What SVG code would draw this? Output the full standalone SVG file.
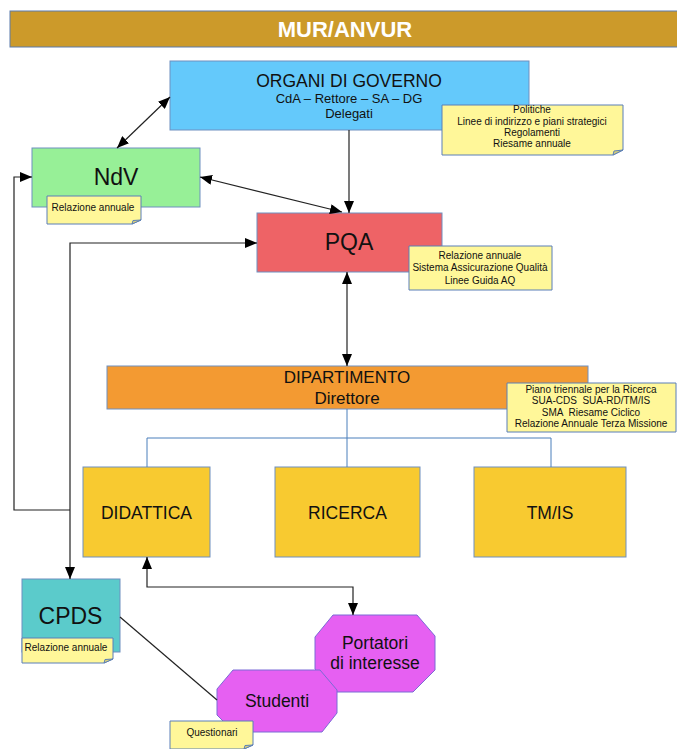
<svg xmlns="http://www.w3.org/2000/svg" width="677" height="749" viewBox="0 0 677 749">
<defs>
<marker id="ah" viewBox="0 0 12 10" refX="12" refY="5" markerWidth="12" markerHeight="10" markerUnits="userSpaceOnUse" orient="auto-start-reverse"><path d="M0,0 L12,5 L0,10 Z" fill="#000"/></marker>
<style>
text{font-family:"Liberation Sans",Arial,sans-serif;fill:#111;text-anchor:middle}
.box{stroke:#6f8fc0;stroke-width:1}
.note{fill:#fff799;stroke:#5b7fb8;stroke-width:1}
.fold{fill:#d9d07a;stroke:#5b7fb8;stroke-width:1}
.nt{font-size:10px;white-space:pre}
.big{font-size:23px}
.mid{font-size:17.5px}
.con{fill:none;stroke:#222;stroke-width:1.2}
.tree{fill:none;stroke:#4a7ebb;stroke-width:1}
.oct{fill:#e660f2;stroke:#7b6ad6;stroke-width:1}
</style>
</defs>
<rect width="677" height="749" fill="#fff"/>
<g id="mur">
<rect x="10" y="11" width="672" height="36" fill="#cc9a2a" stroke="#5a7bab" stroke-width="1"/>
<text x="345" y="36.5" style="font-size:22px;font-weight:bold;fill:#fff">MUR/ANVUR</text>
</g>
<g id="organi">
<rect class="box" x="170" y="61" width="359" height="69" fill="#64c9fb"/>
<text x="349" y="86.5" class="mid">ORGANI DI GOVERNO</text>
<text x="349" y="102.5" style="font-size:13px">CdA – Rettore – SA – DG</text>
<text x="349" y="117.5" style="font-size:13px">Delegati</text>
<path class="note" d="M442,105 H623 V150 L613,155 H442 Z"/>
<path class="fold" d="M623,150 L613,155 L614,151 Z"/>
<text x="532" y="112.5" class="nt">Politiche</text>
<text x="532" y="125" class="nt">Linee di indirizzo e piani strategici</text>
<text x="532" y="136" class="nt">Regolamenti</text>
<text x="532" y="147" class="nt">Riesame annuale</text>
</g>
<g id="ndv">
<rect class="box" x="32" y="148" width="168" height="59" fill="#97f097"/>
<text x="116" y="185" class="big">NdV</text>
<path class="note" d="M47,196 H141 V220 L132,224 H47 Z"/>
<path class="fold" d="M141,220 L132,224 L133,220.5 Z"/>
<text x="93" y="211" class="nt">Relazione annuale</text>
</g>
<g id="pqa">
<rect class="box" x="257" y="213" width="185" height="59" fill="#ee6366"/>
<text x="349" y="249.5" class="big">PQA</text>
<path class="note" d="M409,246 H552 V290 H409 Z"/>
<text x="480" y="259" class="nt">Relazione annuale</text>
<text x="480" y="271" class="nt">Sistema Assicurazione Qualità</text>
<text x="480" y="283.5" class="nt">Linee Guida AQ</text>
</g>
<g id="dipartimento">
<rect class="box" x="107" y="366" width="481" height="43" fill="#f39a32"/>
<text x="347" y="383" style="font-size:17px">DIPARTIMENTO</text>
<text x="347" y="403.5" style="font-size:17px">Direttore</text>
<path class="note" d="M507,383 H676 V432 H507 Z"/>
<text x="591" y="392.7" class="nt">Piano triennale per la Ricerca</text>
<text x="591" y="404.3" class="nt" xml:space="preserve">SUA-CDS  SUA-RD/TM/IS</text>
<text x="591" y="415.7" class="nt" xml:space="preserve">SMA  Riesame Ciclico</text>
<text x="591" y="426.7" class="nt">Relazione Annuale Terza Missione</text>
</g>
<g id="didattica">
<rect class="box" x="83" y="467" width="127" height="90" fill="#f8ca30"/>
<text x="146.5" y="519" class="mid">DIDATTICA</text>
</g>
<g id="ricerca">
<rect class="box" x="275" y="467" width="145" height="90" fill="#f8ca30"/>
<text x="347.5" y="519" class="mid">RICERCA</text>
</g>
<g id="tmis">
<rect class="box" x="474" y="467" width="152" height="90" fill="#f8ca30"/>
<text x="550" y="519" class="mid">TM/IS</text>
</g>
<g id="cpds">
<rect class="box" x="22" y="579" width="98" height="73" fill="#5bcbcb"/>
<text x="70.5" y="623.5" class="big">CPDS</text>
<path class="note" d="M22,638 H113 V659 L104,663 H22 Z"/>
<path class="fold" d="M113,659 L104,663 L105,659.5 Z"/>
<text x="66" y="651" class="nt">Relazione annuale</text>
</g>
<g id="portatori">
<path class="oct" d="M333,615 H417 L435,636 V670 L413,692 H333 L315,669 V637 Z"/>
<text x="375" y="648.5" class="mid">Portatori</text>
<text x="375" y="668.5" class="mid">di interesse</text>
</g>
<g id="studenti">
<path class="oct" d="M233,670 H320 L337,690 V713 L322,732 H234 L217,715 V689 Z"/>
<text x="277" y="706.5" class="mid">Studenti</text>
<path class="note" d="M170,721 H253 V745 L244,749 H170 Z"/>
<path class="fold" d="M253,745 L244,749 L245,745.5 Z"/>
<text x="212" y="736" class="nt">Questionari</text>
</g>
<g id="connectors">
<path class="tree" d="M347,409 V467 M147,467 V438 H551 V467"/>
<path class="con" d="M117,148 L170,97" marker-start="url(#ah)" marker-end="url(#ah)"/>
<path class="con" d="M200,177 L342,212" marker-start="url(#ah)" marker-end="url(#ah)"/>
<path class="con" d="M349,130 V213" marker-end="url(#ah)"/>
<path class="con" d="M347,272 V366" marker-start="url(#ah)" marker-end="url(#ah)"/>
<path class="con" d="M257,243 H70 V579" marker-start="url(#ah)" marker-end="url(#ah)"/>
<path class="con" d="M70,510 H14 V177 H32" marker-end="url(#ah)"/>
<path class="con" d="M147,557 V587 H353 V615" marker-start="url(#ah)" marker-end="url(#ah)"/>
<path class="con" d="M120,617 L217,700"/>
</g>
</svg>
